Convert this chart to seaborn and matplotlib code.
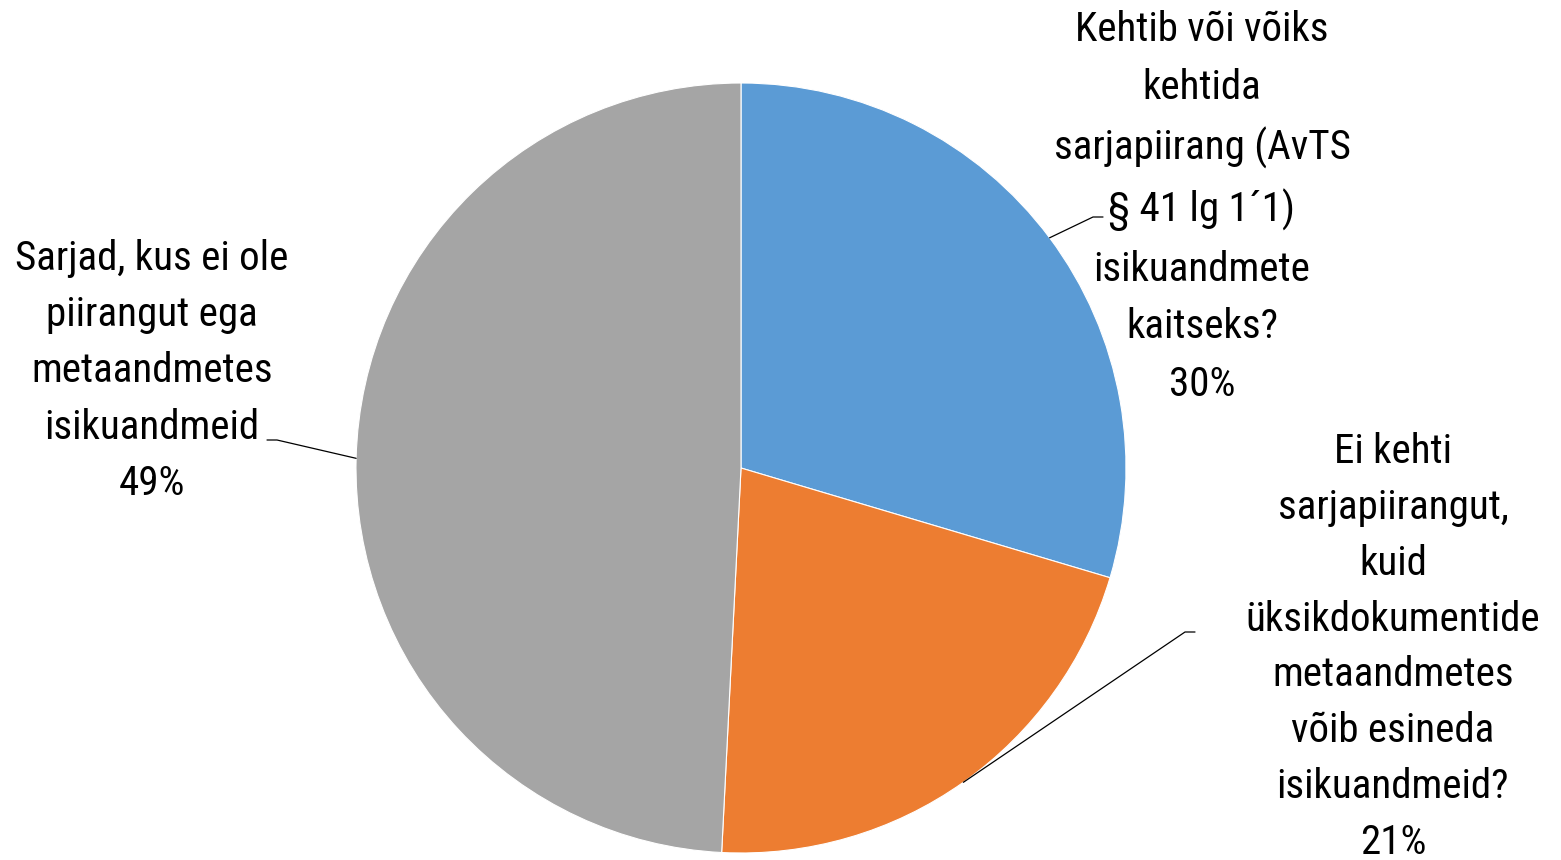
import numpy as np
import matplotlib
matplotlib.use('Agg')
import matplotlib.pyplot as plt
import seaborn as sns
from matplotlib import font_manager

# DATA ----------------------------------------
categories = [
    'Kehtib või võiks\nkehtida\nsarjapiirang (AvTS\n§ 41 lg 1´1)\nisikuandmete\nkaitseks?',
    'Ei kehti\nsarjapiirangut,\nkuid\nüksikdokumentide\nmetaandmetes\nvõib esineda\nisikuandmeid?',
    'Sarjad, kus ei ole\npiirangut ega\nmetaandmetes\nisikuandmeid',
]
shares = [29.6, 21.2, 49.2]
colors = ['#5B9BD5', '#ED7D31', '#A5A5A5']

# label layout (pixel coords, y from top): text centre, leader elbow, elbow side
label_xy = [(1202, 207), (1393, 647), (152, 371)]
elbow_xy = [(1093, 217), (1185, 632), (277, 440)]
elbow_dx = [10, 10, -10]
spacing = [1.6, 1.54, 1.56]

W, H = 1561, 860
cx, cy, R = 741, 468, 385

sns.set_theme(style='white')
names = {f.name for f in font_manager.fontManager.ttflist}
family = 'Roboto Condensed' if 'Roboto Condensed' in names else 'Roboto'
plt.rcParams['font.family'] = [family, 'DejaVu Sans']

fig = plt.figure(figsize=(W / 100, H / 100), dpi=100)
ax = fig.add_axes([0, 0, 1, 1])
wedges, _ = ax.pie(shares, colors=colors, startangle=90, counterclock=False,
                   center=(cx, H - cy), radius=R, frame=True,
                   wedgeprops=dict(edgecolor='white', linewidth=0.8))
ax.set_xlim(0, W)
ax.set_ylim(0, H)
ax.set_aspect('equal')
ax.axis('off')

for w, cat, val, (tx, ty), (ex, ey), dx, ls in zip(wedges, categories, shares, label_xy,
                                                   elbow_xy, elbow_dx, spacing):
    mid = np.deg2rad((w.theta1 + w.theta2) / 2)
    px, py = cx + R * np.cos(mid), (H - cy) + R * np.sin(mid)
    ax.plot([px, ex, ex + dx], [py, H - ey, H - ey], color='black', lw=0.9)
    ax.text(tx, H - ty, f'{cat}\n{val:.0f}%', ha='center', va='center',
            fontsize=29.5, fontweight='normal', linespacing=ls, color='black')

fig.savefig('out.png', dpi=100)
